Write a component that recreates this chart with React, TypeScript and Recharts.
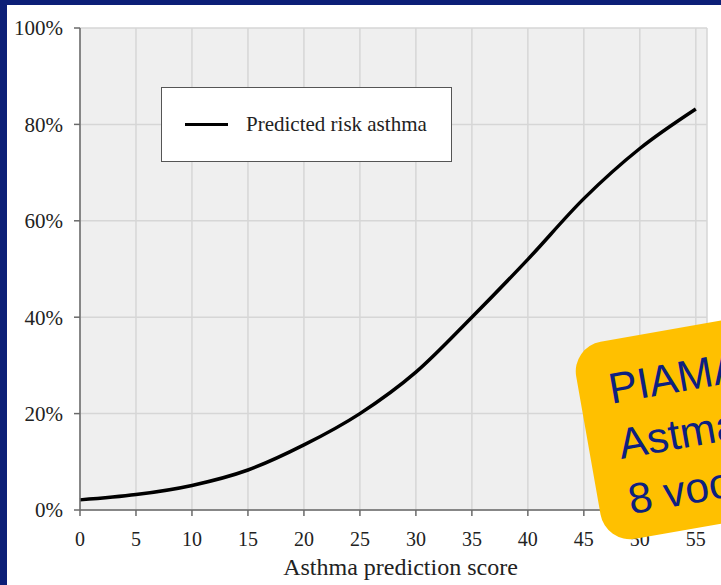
import React from 'react';
import { LineChart, Line, XAxis, YAxis, CartesianGrid, Legend } from 'recharts';

// asthma prediction score vs predicted risk (%)
const scores = [0, 5, 10, 15, 20, 25, 30, 35, 40, 45, 50, 55];
const predictedRisk = [2.1, 3.2, 5.1, 8.3, 13.5, 20, 28.6, 40, 52, 64.6, 75, 83.2];
const xTicks = [0, 5, 10, 15, 20, 25, 30, 35, 40, 45, 50, 55];
const yTicks = [0, 20, 40, 60, 80, 100];

const seriesName = 'Predicted risk asthma';
const axisTitle = 'Asthma prediction score';
const noteLines = ['PIAMA', 'Astma risico', '8 voorspellers'];

const NAVY = '#0c1f77';
const SERIF = '"Liberation Serif", "Times New Roman", serif';

const data = scores.map((s, i) => ({ score: s, risk: predictedRisk[i] }));

function AxisTitle(props: any) {
    const vb = props.viewBox || { x: 80, y: 510, width: 627, height: 60 };
    return (
        <text
            x={vb.x + vb.width / 2 + 7}
            y={vb.y + 65}
            textAnchor="middle"
            fill="#222"
            style={{ fontFamily: SERIF, fontSize: 24 }}
        >
            {axisTitle}
        </text>
    );
}

function LegendBox() {
    return (
        <div
            style={{
                boxSizing: 'border-box',
                width: 291,
                height: 75,
                background: '#fff',
                border: '1.5px solid #555',
                display: 'flex',
                alignItems: 'center',
                fontFamily: SERIF,
                fontSize: 21,
                color: '#222',
            }}
        >
            <span style={{ display: 'inline-block', width: 43, height: 3, background: '#000', marginLeft: 23, marginRight: 18 }} />
            <span>{seriesName}</span>
        </div>
    );
}

export default function App() {
    return (
        <div style={{ position: 'absolute', left: 0, top: 0, width: 721, height: 585, background: NAVY, overflow: 'hidden' }}>
            <div style={{ position: 'absolute', left: 7, top: 5, right: 0, bottom: 0, background: '#fff' }} />
            <div style={{ position: 'absolute', left: 0, top: 0 }}>
                <LineChart width={721} height={585} data={data} margin={{ top: 28, right: 14, left: 8, bottom: 15 }}>
                    <CartesianGrid stroke="#d6d6d6" strokeWidth={1.5} fill="#efefef" />
                    <XAxis
                        type="number"
                        dataKey="score"
                        domain={[0, 56]}
                        ticks={xTicks}
                        height={60}
                        tickSize={6}
                        tickMargin={16}
                        axisLine={{ stroke: '#6a6a6a', strokeWidth: 1.5 }}
                        tickLine={{ stroke: '#6a6a6a', strokeWidth: 1.5 }}
                        tick={{ fill: '#222', fontSize: 20, fontFamily: SERIF }}
                        label={<AxisTitle />}
                    />
                    <YAxis
                        type="number"
                        domain={[0, 100]}
                        ticks={yTicks}
                        width={72}
                        tickSize={6}
                        tickMargin={11}
                        tickFormatter={(v: number) => `${v}%`}
                        axisLine={{ stroke: '#6a6a6a', strokeWidth: 1.5 }}
                        tickLine={{ stroke: '#6a6a6a', strokeWidth: 1.5 }}
                        tick={{ fill: '#222', fontSize: 21, fontFamily: SERIF }}
                    />
                    <Legend
                        layout="horizontal"
                        verticalAlign="middle"
                        align="center"
                        wrapperStyle={{ left: 161, top: 87, width: 291, height: 75 }}
                        content={() => <LegendBox />}
                    />
                    <Line
                        name={seriesName}
                        type="monotone"
                        dataKey="risk"
                        stroke="#000"
                        strokeWidth={3.5}
                        dot={false}
                        isAnimationActive={false}
                    />
                </LineChart>
            </div>
            <div
                style={{
                    position: 'absolute',
                    left: 571,
                    top: 347,
                    width: 320,
                    height: 200,
                    background: '#ffc000',
                    borderRadius: 30,
                    transform: 'rotate(-10deg)',
                    transformOrigin: '0 0',
                    boxSizing: 'border-box',
                    padding: '20px 0 0 30px',
                    fontFamily: '"Liberation Sans", Arial, sans-serif',
                    fontSize: 43,
                    lineHeight: '56px',
                    color: '#0d2080',
                    whiteSpace: 'nowrap',
                }}
            >
                {noteLines.map((l) => (
                    <div key={l}>{l}</div>
                ))}
            </div>
        </div>
    );
}
